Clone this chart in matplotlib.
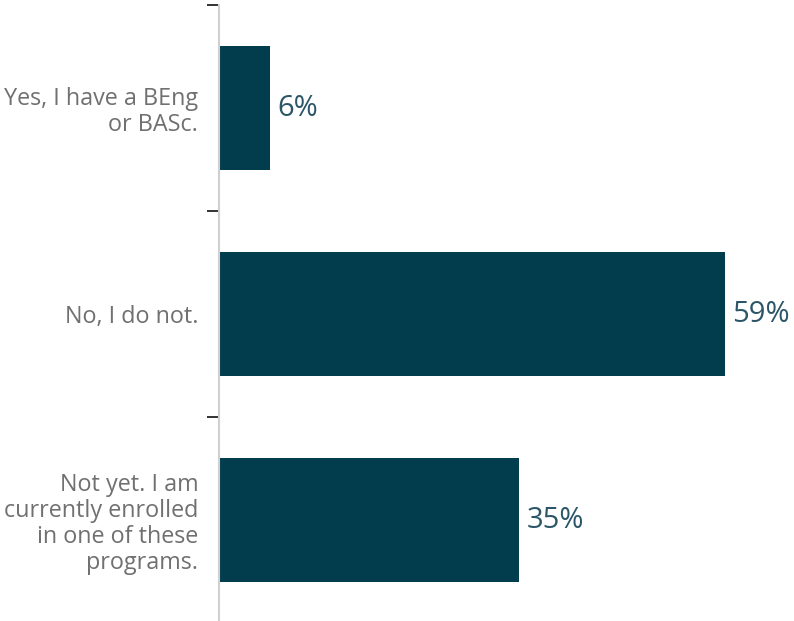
import matplotlib.pyplot as plt

categories = ['Yes, I have a BEng\nor BASc.', 'No, I do not.',
              'Not yet. I am\ncurrently enrolled\nin one of these\nprograms.']
values = [6, 59, 35]
value_labels = ['6%', '59%', '35%']

plt.rcParams['font.family'] = ['Open Sans', 'DejaVu Sans']

fig = plt.figure(figsize=(7.94, 6.21), dpi=100)
W, H = 794, 621
ax = fig.add_axes([219 / W, 0, 1 - 219 / W, (H - 5) / H])

y_pos = range(len(categories))
ax.barh(y_pos, values, height=0.6, color='#023d4e')
ax.set_ylim(2.49, -0.5)
ax.set_xlim(0, 67.0)

for y, v, lab in zip(y_pos, values, value_labels):
    ax.text(v + 0.8, y, lab, va='center', ha='left', fontsize=21, color='#2b5667')

# category labels centred in each band, separator ticks on the boundaries
ax.set_yticks([-0.5, 0.5, 1.5])
ax.set_yticklabels([])
ax.set_yticks(list(y_pos), minor=True)
ax.set_yticklabels(categories, minor=True, fontsize=16.8, color='#707070',
                   linespacing=1.1)
ax.tick_params(axis='y', which='major', length=9, width=1.3, color='#222222')
ax.tick_params(axis='y', which='minor', length=0, pad=15)
for t in ax.get_yticklabels(minor=True):
    t.set_ha('right')

ax.set_xticks([])
for s in ['top', 'right', 'bottom']:
    ax.spines[s].set_visible(False)
ax.spines['left'].set_color('#d0d0d0')
ax.spines['left'].set_linewidth(1.5)

fig.savefig('out.png', dpi=100)
